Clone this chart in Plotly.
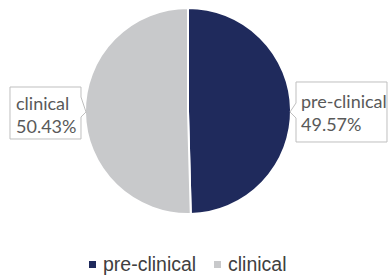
import plotly.graph_objects as go

labels = ["pre-clinical", "clinical"]
values = [49.57, 50.43]
colors = ["#1f2a5c", "#c8c9cb"]

W, H = 388, 276
def px(x): return x / W
def py(y): return 1 - y / H

cx, cy, r = 188, 111, 103
fig = go.Figure(go.Pie(
    labels=labels, values=values, sort=False, direction="clockwise", rotation=0,
    marker=dict(colors=colors, line=dict(color="white", width=2)),
    textinfo="none", hoverinfo="label+percent", showlegend=False,
    domain=dict(x=[px(cx - r), px(cx + r)], y=[py(cy + r), py(cy - r)]),
))

def path(pts):
    return "M " + " L ".join(f"{px(x):.5f},{py(y):.5f}" for x, y in pts) + " Z"

# callout boxes (label frames)
fig.add_shape(type="path", xref="paper", yref="paper",
              path=path([(10, 87), (81, 87), (81, 97), (86, 112), (81, 117), (81, 139), (10, 139)]),
              line=dict(color="#bfbfbf", width=1), fillcolor="white")
fig.add_shape(type="path", xref="paper", yref="paper",
              path=path([(296, 82), (387, 82), (387, 142), (296, 142), (296, 118), (290, 112), (296, 103)]),
              line=dict(color="#bfbfbf", width=1), fillcolor="white")

tot = sum(values)
ann_font = dict(family="Lato, sans-serif", size=18, color="#595959")
fig.add_annotation(x=px(300), y=py(112), xref="paper", yref="paper", xanchor="left", yanchor="middle",
                   text=f"{labels[0]}<br>{values[0]/tot*100:.2f}%", showarrow=False, align="left",
                   font=ann_font, borderpad=0)
fig.add_annotation(x=px(15), y=py(114), xref="paper", yref="paper", xanchor="left", yanchor="middle",
                   text=f"{labels[1]}<br>{values[1]/tot*100:.2f}%", showarrow=False, align="left",
                   font=ann_font, borderpad=0)

# legend
leg_font = dict(family="Liberation Sans, Arial, sans-serif", size=19.5, color="#404040")
leg_items = [(92.5, 102), (217.5, 227)]
for (mx, tx), lab, col in zip(leg_items, labels, colors):
    fig.add_shape(type="rect", xref="paper", yref="paper",
                  x0=px(mx - 3.5), x1=px(mx + 3.5), y0=py(268), y1=py(261),
                  line=dict(width=0), fillcolor=col)
    fig.add_annotation(x=px(tx), y=py(264), xref="paper", yref="paper", xanchor="left", yanchor="middle",
                       text=lab, showarrow=False, font=leg_font, borderpad=0)

fig.update_layout(
    width=W, height=H, margin=dict(l=0, r=0, t=0, b=0),
    paper_bgcolor="white", plot_bgcolor="white", showlegend=False,
)
fig.write_html("out.html", config={"displayModeBar": False},
               post_script="document.body.style.margin='0';document.body.style.overflow='hidden';")
